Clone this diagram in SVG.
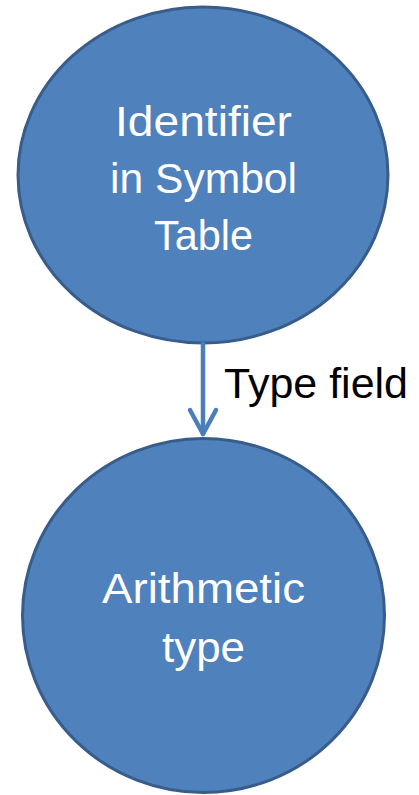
<svg xmlns="http://www.w3.org/2000/svg" width="419" height="795" viewBox="0 0 419 795">
<style>
.node{fill:#4F81BD;stroke:#385D8A;stroke-width:3}
.lbl{font-family:"Liberation Sans",Arial,sans-serif;font-size:43px;fill:#FFFFFF;text-anchor:middle}
.elbl{font-family:"Liberation Sans",Arial,sans-serif;font-size:43px;fill:#000000}
.conn{stroke:#4A7EBB;stroke-width:4.5;fill:none;stroke-linecap:round;stroke-linejoin:round}
</style>
<rect width="419" height="795" fill="#FFFFFF"/>
<g id="node-identifier">
<ellipse class="node" cx="203" cy="175" rx="185" ry="168"/>
<text class="lbl" x="203.5" y="136" textLength="177" lengthAdjust="spacingAndGlyphs">Identifier</text>
<text class="lbl" x="203.5" y="193" textLength="187" lengthAdjust="spacingAndGlyphs">in Symbol</text>
<text class="lbl" x="203.5" y="250" textLength="99" lengthAdjust="spacingAndGlyphs">Table</text>
</g>
<g id="node-arithmetic">
<ellipse class="node" cx="203.5" cy="615.5" rx="181" ry="177"/>
<text class="lbl" x="203.5" y="603" textLength="203" lengthAdjust="spacingAndGlyphs">Arithmetic</text>
<text class="lbl" x="203.5" y="662" textLength="83" lengthAdjust="spacingAndGlyphs">type</text>
</g>
<g id="connectors">
<line class="conn" x1="203" y1="344" x2="203" y2="434"/>
<polyline class="conn" points="190,410 203,434 216,410"/>
<text class="elbl" x="224" y="398" textLength="184" lengthAdjust="spacingAndGlyphs">Type field</text>
</g>
</svg>
